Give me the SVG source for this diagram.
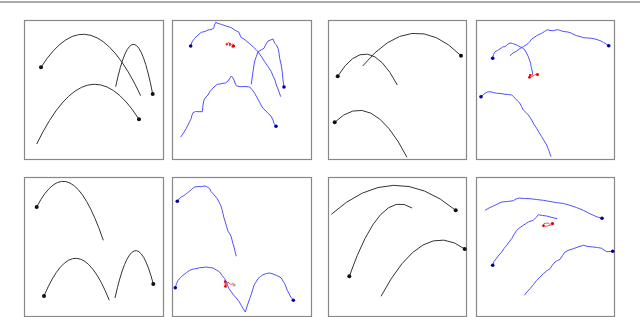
<svg xmlns="http://www.w3.org/2000/svg" width="640" height="317" viewBox="0 0 640 317">
<style>
.frame{fill:#fff;stroke:#888;stroke-width:1.2}
.traj{fill:none;stroke:#333;stroke-width:1}
.dot{fill:#111}
.blue{fill:none;stroke:#5050ff;stroke-width:1}
.bdot{fill:#0000a0}
.red{fill:none;stroke:#ff4040;stroke-width:0.9}
.rdot{fill:#dd0000}
</style>
<rect width="640" height="317" fill="#fff"/>
<line x1="0" y1="2" x2="640" y2="2" stroke="#555" stroke-width="1.2"/>

<g id="panel1">
<rect class="frame" x="24.5" y="20.5" width="139" height="139"/>
<path class="traj" d="M41,67.3 Q90.85,-10.8 140.7,95.7"/>
<path class="traj" d="M115.7,86.7 Q134.2,-1.6 152.7,94"/>
<path class="traj" d="M36.7,144 Q87.85,38.5 139,119.3"/>
<circle class="dot" cx="41" cy="67.3" r="2"/>
<circle class="dot" cx="152.7" cy="94" r="2"/>
<circle class="dot" cx="139" cy="119.3" r="2"/>
</g>

<g id="panel2">
<rect class="frame" x="172.5" y="20.5" width="139" height="139"/>
<polyline class="blue" points="190.7,46 192,42 194.7,38.3 198,35 201.3,32.3 205,31.5 208,30 211,29.5 213.7,28.3 214.5,25 215.7,22.3 218,23.5 221.3,24.3 226,26 231.3,27.7 234,29.5 236.3,31 239,32.3 240,35 241.3,37.7 244,39 248,42.3 251,45 253.3,47 256,49.5 258,51.7 261,56 264.7,61.7 268,66.5 271.3,71.7 273,76 275,80 276.3,85 278,89 280.7,96.7"/>
<polyline class="blue" points="251.3,84.3 252.5,75 254,65 255,60 256.3,56.7 258,51.7 261,50 264,48.3 266,44 268,41 270.5,40 273,39 274.7,43.3 276.5,45 278,48.3 279,53 279.7,58.3 281,64 282,70 282.5,75 283,80 284,87"/>
<polyline class="blue" points="180.7,137 183.5,133 186.3,128.3 189,123 191.3,118.3 192,115 193,112.7 195.5,111.5 198,111.7 202.3,111.7 203,105 204,100 206,97 208,95 209.5,92 211.3,90 214,87 217.3,84.3 220,84 223,83.3 225.5,83 228,81 230,78 231.3,76 233,78 234,80 235,83 236.3,85.7 239,86.5 241.3,86.7 245,86.5 249.7,87 252,89.5 254.7,93.3 257,97.5 259.7,102.3 261,105 263,108.3 265.5,110.5 268,113.3 270,115 271.3,116.7 273,120 274,123.3 276,126.3"/>
<circle class="bdot" cx="190.7" cy="46" r="1.8"/>
<circle class="bdot" cx="284" cy="87" r="1.8"/>
<circle class="bdot" cx="276" cy="126.3" r="1.8"/>
<polyline class="red" points="226.5,44 228,42.5 230,43.5 229,46 231,45 233,44 234.5,45.5 233,47.5 231,46.5"/>
<circle class="rdot" cx="226.8" cy="44.3" r="1.1"/>
<circle class="rdot" cx="233.5" cy="46" r="1.6"/>
<circle class="rdot" cx="230" cy="44" r="1"/>
</g>

<g id="panel3">
<rect class="frame" x="328.5" y="20.5" width="138" height="139"/>
<path class="traj" d="M337.7,76.3 Q367.5,27.7 397.3,85"/>
<path class="traj" d="M362.7,66 Q411.85,6.1 461,55.7"/>
<path class="traj" d="M334.7,122.3 Q370.85,86.5 407,157.3"/>
<circle class="dot" cx="337.7" cy="76.3" r="2"/>
<circle class="dot" cx="461" cy="55.7" r="2"/>
<circle class="dot" cx="334.7" cy="122.3" r="2"/>
</g>

<g id="panel4">
<rect class="frame" x="476.5" y="20.5" width="138" height="139"/>
<polyline class="blue" points="492.7,58.3 493.5,54.5 495,51.7 497.5,50.5 500,49 502.5,47 505,46.7 507.5,44.5 510,43 512.5,43.5 515,44.3 517.5,45.5 520,46.7 522.5,48 525,50 526.5,53 528.3,56.7 529.5,60 530.7,63.3 531,66.5 532,70 532.7,74.3"/>
<polyline class="blue" points="510,55.7 513,53 516.7,51 520,48.5 523.3,46.7 526,45 528.3,43.3 530,41.5 531.7,39 534,37.5 536.7,35.7 539,34.5 541.7,33.3 544.5,31.5 547.3,29.7 550,30.5 553.3,30.7 556,30 558.3,29.7 561.5,31 565,31.7 568,32 571.7,33.3 574,34.5 576.7,35.7 580,36.5 583.3,37.7 587.5,38 591.7,38.3 595,39 598.3,40 601,41 603.3,42.3 606,44 608.7,45.7"/>
<polyline class="blue" points="481,96.7 483,95 485,93.3 487.5,92 490,91.7 493.5,92.5 496.7,93.3 501,93.5 505,94.3 508.5,94.5 511.7,95 513.5,96.5 515,98.3 517.5,101 520,103.3 521.5,106.5 523.3,110 526,112.5 528.3,115 530,117.5 531.7,120 534,124.5 536.7,128.3 539,132.5 541.7,136.7 544,140.5 546.7,145 548,148.5 549.3,151.7 550,154 551,156.7"/>
<circle class="bdot" cx="492.7" cy="58.3" r="1.8"/>
<circle class="bdot" cx="608.7" cy="45.7" r="1.8"/>
<circle class="bdot" cx="481" cy="96.7" r="1.8"/>
<polyline class="red" points="529,78 530,75 532.5,74.5 531,77 534,75.5 536,74 538,75"/>
<circle class="rdot" cx="529.5" cy="77.3" r="1.4"/>
<circle class="rdot" cx="530" cy="75" r="1.1"/>
<circle class="rdot" cx="537.5" cy="74.5" r="1.5"/>
</g>

<g id="panel5">
<rect class="frame" x="24.5" y="177.5" width="139" height="139"/>
<path class="traj" d="M36.7,207 Q70,142.4 103.3,240.3"/>
<path class="traj" d="M44,296 Q76.65,218.5 109.3,300.3"/>
<path class="traj" d="M115,298 Q134.15,210.9 153.3,284"/>
<circle class="dot" cx="36.7" cy="207" r="2"/>
<circle class="dot" cx="44" cy="296" r="2"/>
<circle class="dot" cx="153.3" cy="284" r="2"/>
</g>

<g id="panel6">
<rect class="frame" x="172.5" y="177.5" width="139" height="139"/>
<polyline class="blue" points="177.3,201.3 179,199 181.3,197 184,195.5 186.3,193.7 188.5,192 190.7,190.3 192.5,188.5 194.7,187 198,186.5 201.3,186.7 204,186 206.3,186.3 208,187.5 209.7,188.7 211,191.5 213,193.7 215,196 217.3,198.7 219,202 220.7,205.3 222,209.5 223,213.7 224,218 225.3,222 226.5,226.5 228,231.3 230,234 231.3,237 232.5,242 234,247 235,251.5 236.3,256.3"/>
<polyline class="blue" points="175.3,287.7 176.5,283.5 178,280.3 180.5,277.5 183,275.3 186.5,272.5 189.7,270.3 192,269.5 194.7,268.7 197,268.5 199.7,267.7 203,267.5 206.3,267 209.5,267.5 213,268 216.5,270 219.7,272 222,275.5 224.7,278.7 226,281.5 227.3,284.7 229,288.5 231.3,292 233.5,295 236.3,298 239,301.5 241.3,305.3 243,308.5 245.3,312"/>
<polyline class="blue" points="245.3,312 247.5,305 249.7,298.7 252,292 254,285.3 256,282 258,278.7 260.5,276.5 263,274.7 266.5,273.5 269.7,273 273,274 276.3,275.3 279,276.5 281.3,278 283,281 284.7,283.7 286,287 287.3,290.3 289,293.5 290.7,297 292,298.5 293.3,300.3"/>
<circle class="bdot" cx="177.3" cy="201.3" r="1.8"/>
<circle class="bdot" cx="175.3" cy="287.7" r="1.8"/>
<circle class="bdot" cx="293.3" cy="300.3" r="1.8"/>
<polyline class="red" points="225,281 226,286 228,282 230.5,284.5 233,283.5 234.5,285"/>
<line class="red" x1="225" y1="281" x2="225" y2="287" stroke-width="1.5"/>
<circle class="rdot" cx="225.2" cy="281.5" r="1.3"/>
<circle class="rdot" cx="225.5" cy="286.5" r="1.3"/>
<circle cx="234" cy="285" r="1.5" fill="#b0a0a0"/>
</g>

<g id="panel7">
<rect class="frame" x="328.5" y="177.5" width="138" height="139"/>
<path class="traj" d="M331.3,214.3 Q393.5,158.4 455.7,210.3"/>
<path class="traj" d="M349.3,276.3 Q380.65,187 412,208"/>
<path class="traj" d="M381,296.3 Q422.85,217.5 464.7,249"/>
<circle class="dot" cx="455.7" cy="210.3" r="2"/>
<circle class="dot" cx="349.3" cy="276.3" r="2"/>
<circle class="dot" cx="464.7" cy="249" r="2"/>
</g>

<g id="panel8">
<rect class="frame" x="476.5" y="177.5" width="138" height="139"/>
<polyline class="blue" points="485,210.3 489,208 493.3,206 497.5,204 501.7,202 507.5,201.5 513.3,200.7 516,199 519.3,198 524.5,198.5 530,198.7 536.5,199.5 543.3,200.3 550,201.5 556.7,202.7 563.5,203.5 570,205.3 576.5,207.5 583.3,210.3 588.5,213 593.3,215.3 597.5,217 602,218.3"/>
<polyline class="blue" points="492.7,265.3 494,261.5 496.7,258 499,255 501.7,252 504,248.5 506.7,245.3 509,242 511.7,238.7 514,234.5 516.7,230.3 520,227.5 523.3,225.3 526,223.5 528.3,222 531,221 533.3,220.3 536,217.5 538.3,214.7 542.5,215.5 546.7,216 552,217.5 557.3,218.7"/>
<polyline class="blue" points="524.3,295.3 527,292 530,288.7 533.5,284.5 536.7,280.3 540,277 543.3,273.7 546.5,271 550,268.7 552.5,265 555,262 557.5,260.5 560,259.3 562.5,255.5 565,252 569,250 573.3,248.7 578,247 583.3,245.3 588,246.5 593.3,247 597.5,247.5 601.7,248.3 604,250 606.7,251.7 610,251.5 612.7,251.3"/>
<circle class="bdot" cx="602" cy="218.3" r="1.8"/>
<circle class="bdot" cx="492.7" cy="265.3" r="1.8"/>
<circle class="bdot" cx="612.7" cy="251.3" r="1.8"/>
<polyline class="red" points="543,226 544,223.5 548,223 550,224.5 552,222.5 553.5,224.5 549,225.5 545,226.5"/>
<circle class="rdot" cx="543.5" cy="225.8" r="1.4"/>
<circle class="rdot" cx="552.5" cy="223.5" r="1.5"/>
</g>
</svg>
